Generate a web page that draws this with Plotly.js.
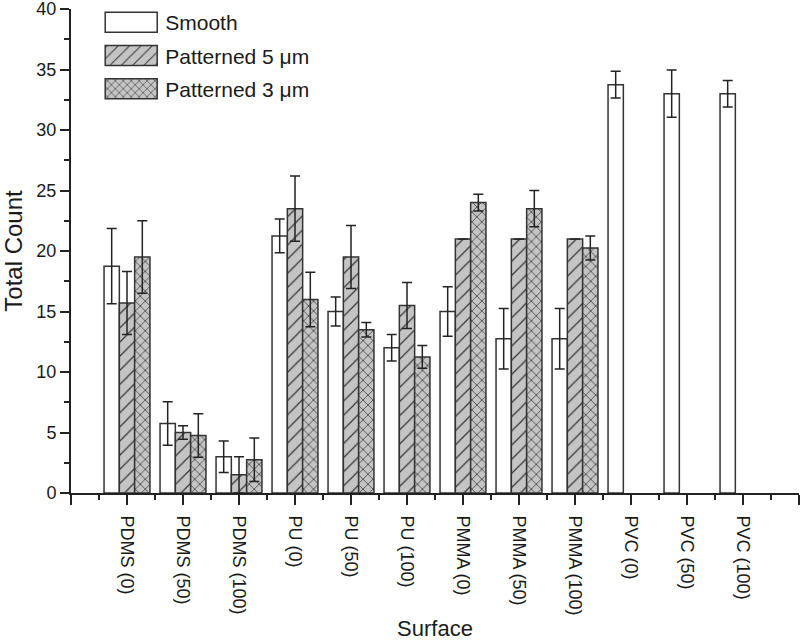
<!DOCTYPE html>
<html>
<head>
<meta charset="utf-8">
<script src="https://cdn.plot.ly/plotly-3.0.1.min.js"></script>
<style>
html,body{margin:0;padding:0;background:#fff;}
#plot{width:800px;height:642px;}
</style>
</head>
<body>
<div id="plot"></div>
<script>
const categories = ['PDMS (0)','PDMS (50)','PDMS (100)','PU (0)','PU (50)','PU (100)','PMMA (0)','PMMA (50)','PMMA (100)','PVC (0)','PVC (50)','PVC (100)'];
const smooth    = [18.75, 5.75, 3.0, 21.25, 15.0, 12.0, 15.0, 12.75, 12.75, 33.75, 33.0, 33.0];
const smoothErr = [3.1, 1.8, 1.3, 1.4, 1.2, 1.1, 2.05, 2.5, 2.5, 1.1, 1.95, 1.1];
const pat5      = [15.7, 5.0, 1.5, 23.5, 19.5, 15.5, 21.0, 21.0, 21.0, null, null, null];
const pat5Err   = [2.6, 0.55, 1.5, 2.7, 2.6, 1.9, null, null, null, null, null, null];
const pat3      = [19.5, 4.75, 2.75, 16.0, 13.5, 11.25, 24.0, 23.5, 20.25, null, null, null];
const pat3Err   = [3.0, 1.8, 1.8, 2.25, 0.6, 0.95, 0.7, 1.5, 1.0, null, null, null];
const seriesNames = ['Smooth', 'Patterned 5 \u03bcm', 'Patterned 3 \u03bcm'];

const xIdx = categories.map((_, i) => i);
const outline = {color: '#333333', width: 1.5};
const errStyle = (arr) => ({type: 'data', array: arr, visible: true, color: '#222222', thickness: 1.5, width: 5});

const traces = [
  {type: 'bar', name: seriesNames[0], x: xIdx, y: smooth, legendgroup: 'a',
   marker: {color: '#ffffff', line: outline}, error_y: errStyle(smoothErr)},
  {type: 'bar', name: seriesNames[1], x: xIdx, y: pat5, legendgroup: 'b',
   marker: {color: '#c4c4c4', line: outline,
            pattern: {shape: '/', bgcolor: '#c4c4c4', fgcolor: '#333333', size: 10, solidity: 0.12}},
   error_y: errStyle(pat5Err)},
  {type: 'bar', name: seriesNames[2], x: xIdx, y: pat3, legendgroup: 'c',
   marker: {color: '#c4c4c4', line: outline,
            pattern: {shape: 'x', bgcolor: '#c4c4c4', fgcolor: '#333333', size: 7, solidity: 0.2}},
   error_y: errStyle(pat3Err)}
];

const majorX = [-1].concat(xIdx, [categories.length]);
const majorText = [''].concat(categories, ['']);
const minorX = [];
for (let i = -1; i < categories.length; i++) minorX.push(i + 0.5);

const layout = {
  width: 800, height: 642,
  margin: {l: 71, r: 1, t: 9, b: 149},
  paper_bgcolor: '#ffffff', plot_bgcolor: '#ffffff',
  font: {family: 'Liberation Sans, Arial, sans-serif', color: '#1a1a1a'},
  barmode: 'group', bargap: 0.18, bargroupgap: 0,
  showlegend: true,
  legend: {x: 0.036, y: 1.0145, xanchor: 'left', yanchor: 'top', bgcolor: 'rgba(0,0,0,0)',
           font: {size: 21, color: '#1a1a1a'}, itemwidth: 58, traceorder: 'grouped',
           tracegroupgap: 3},
  xaxis: {
    range: [-1, categories.length], showgrid: false, zeroline: false,
    showline: true, linecolor: '#222222', linewidth: 2,
    tickmode: 'array', tickvals: majorX, ticktext: majorText,
    ticks: 'outside', ticklen: 10, tickwidth: 2, tickcolor: '#222222',
    tickangle: 90, tickfont: {size: 18}, ticklabelstandoff: 7,
    minor: {tickmode: 'array', tickvals: minorX, ticks: 'outside', ticklen: 5, tickwidth: 2, tickcolor: '#222222'},
    title: {text: 'Surface', font: {size: 22}, standoff: 6}
  },
  yaxis: {
    range: [0, 40], showgrid: false, zeroline: false,
    showline: true, linecolor: '#222222', linewidth: 2,
    tickmode: 'linear', tick0: 0, dtick: 5,
    ticks: 'outside', ticklen: 9, tickwidth: 2, tickcolor: '#222222',
    tickfont: {size: 18}, ticklabeloverflow: 'allow',
    minor: {tickmode: 'linear', tick0: 2.5, dtick: 5, ticks: 'outside', ticklen: 5, tickwidth: 2, tickcolor: '#222222'},
    title: {text: 'Total Count', font: {size: 24}, standoff: 8}
  }
};

Plotly.newPlot('plot', traces, layout, {displayModeBar: false, staticPlot: true}).then(function(gd){
  const paths = gd.querySelectorAll('.legend .legendpoints path');
  paths.forEach(function(p){ p.setAttribute('d', 'M26,10H-26V-10H26Z'); });
});
</script>
</body>
</html>
